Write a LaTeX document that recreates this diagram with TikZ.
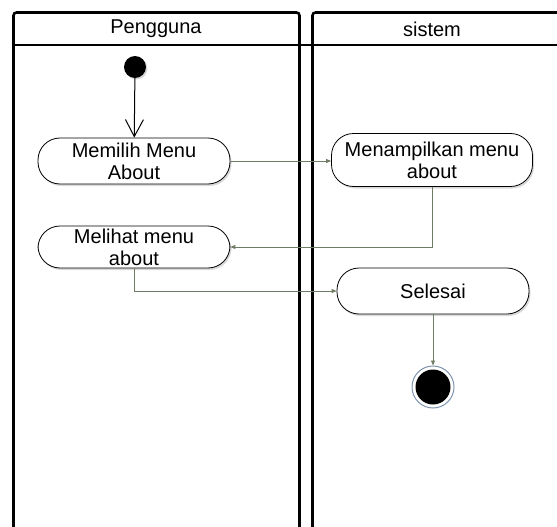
\documentclass[tikz,border=0pt]{standalone}
\usepackage{fontspec}
\setmainfont{Liberation Sans}
\usetikzlibrary{arrows.meta, positioning, shadows}
\definecolor{flow}{HTML}{6F7D64}
\definecolor{ring}{HTML}{7E93AE}

\begin{document}
\begin{tikzpicture}[x=1pt, y=-1pt,
    activity/.style={draw, thick, rounded corners=22pt, fill=white,
                     minimum width=192pt, minimum height=46pt, inner sep=0pt,
                     align=center, font=\fontsize{20}{22}\selectfont,
                     drop shadow={opacity=0.3, shadow xshift=1.5pt, shadow yshift=-2pt}},
    lanehead/.style={font=\fontsize{20}{22}\selectfont},
    lane/.style={line width=2.6pt, rounded corners=3pt},
    flowline/.style={draw=flow, line width=0.9pt, -{Triangle[length=5pt, width=4pt]}}
  ]
  \useasboundingbox (0,0) rectangle (557,527);

  % swimlanes
  \draw[lane] (13.5,540) -- (13.5,12.5) -- (299.5,12.5) -- (299.5,540);
  \draw[lane] (312.5,540) -- (312.5,12.5) -- (570,12.5);
  \draw[line width=1.6pt] (13.5,45) -- (570,45);
  \node[lanehead] (hpengguna) at (156,29) {Pengguna};
  \node[lanehead] (hsistem) at (432,29) {sistem};

  % activities
  \node[circle, fill=black, minimum size=22pt, inner sep=0pt,
        drop shadow={opacity=0.3, shadow xshift=1.5pt, shadow yshift=-1.5pt}] (start) at (135,67) {};
  \node[activity] (memilih) at (134,161) {Memilih Menu\\About};
  \node[activity, minimum width=201pt, minimum height=53pt] (tampil) at (432,160) {Menampilkan menu\\about};
  \node[activity, minimum height=42pt] (melihat) at (134,247) {Melihat menu\\about};
  \node[activity] (selesai) at (433,291) {Selesai};
  \node[circle, draw=ring, line width=1pt, minimum size=42pt, inner sep=0pt] (finish) at (433,387) {};
  \node[circle, fill=black, minimum size=35pt, inner sep=0pt] (finishdot) at (finish) {};

  % flows
  \draw[line width=1pt, -{Straight Barb[length=17pt, width=18pt]}] (start) -- (memilih);
  \draw[flowline] (memilih) -- (tampil.west |- memilih);
  \draw[flowline] (tampil.south) |- (melihat.east);
  \draw[flowline] (melihat.south) |- (selesai.west);
  \draw[flowline] (selesai) -- (finish);
\end{tikzpicture}
\end{document}
